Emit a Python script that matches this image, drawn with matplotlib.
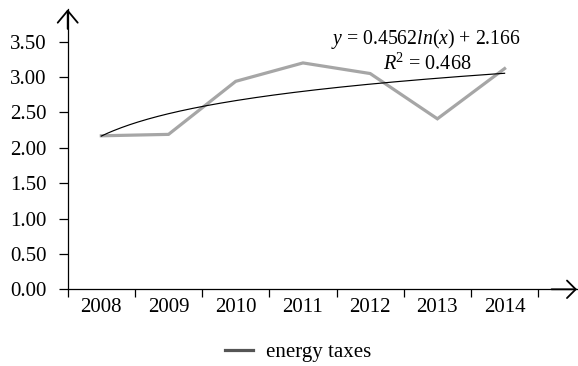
import numpy as np
import matplotlib
matplotlib.use("Agg")
import matplotlib.pyplot as plt
from matplotlib.lines import Line2D
from matplotlib.ticker import FixedLocator, FuncFormatter

plt.rcParams["font.family"] = ["Liberation Serif", "DejaVu Serif"]
plt.rcParams["mathtext.fontset"] = "custom"
plt.rcParams["mathtext.rm"] = "Liberation Serif"
plt.rcParams["mathtext.it"] = "Liberation Serif:italic"

years = ["2008", "2009", "2010", "2011", "2012", "2013", "2014"]
energy_taxes = [2.17, 2.19, 2.94, 3.20, 3.05, 2.41, 3.12]
trend_a = 0.4562
trend_b = 2.166
r_squared = 0.468
y_ticks = [0.0, 0.5, 1.0, 1.5, 2.0, 2.5, 3.0, 3.5]

W, H = 578, 366
fig = plt.figure(figsize=(W / 100, H / 100), dpi=100)
x0, y0 = 67.7, 289.3
x1, y1 = 577, 9.3
ax = fig.add_axes([x0 / W, (H - y0) / H, (x1 - x0) / W, (y0 - y1) / H])

xs = np.arange(len(years))
ax.plot(xs, energy_taxes, color="#a6a6a6", lw=2.3, solid_joinstyle="miter", zorder=3)

# logarithmic trend line, x = 1..7
xt = np.linspace(1, len(years), 200)
ax.plot(xt - 1, trend_a * np.log(xt) + trend_b, color="black", lw=0.85, zorder=4)

ax.set_xlim(-0.5, 7.077)
ax.set_ylim(0, 3.958)

for s in ["top", "right"]:
    ax.spines[s].set_visible(False)
for s in ["left", "bottom"]:
    ax.spines[s].set_linewidth(0.9)

ax.yaxis.set_major_locator(FixedLocator(y_ticks))
ax.yaxis.set_major_formatter(FuncFormatter(lambda v, p: f"{v:.2f}"))
ax.tick_params(axis="y", direction="out", length=6.5, width=0.9, labelsize=15, pad=8.5)

ax.set_xticks(xs)
ax.set_xticklabels(years)
ax.tick_params(axis="x", which="major", length=0, labelsize=15, pad=6)
ax.set_xticks(np.arange(-0.5, len(years) + 0.5, 1.0), minor=True)
ax.tick_params(axis="x", which="minor", direction="out", length=6, width=0.9)

# arrow heads on the axes
ax.annotate("", xy=(1.0, 0), xytext=(0.95, 0), xycoords="axes fraction",
            arrowprops=dict(arrowstyle="->, head_length=0.45, head_width=0.45",
                            lw=1.3, color="black",
                            mutation_scale=14, shrinkA=0, shrinkB=0))
ax.annotate("", xy=(0, 1.0), xytext=(0, 0.93), xycoords="axes fraction",
            arrowprops=dict(arrowstyle="->, head_length=0.6, head_width=0.5",
                            lw=1.3, color="black",
                            mutation_scale=14.4, shrinkA=0, shrinkB=0))

ax.text(426 / W, (H - 39) / H, r"$y$ = 0.4562$ln$($x$) + 2.166",
        transform=fig.transFigure, ha="center", va="center", fontsize=14.2)
ax.text(427 / W, (H - 64) / H, r"$R$$^2$ = " + f"{r_squared:.3f}",
        transform=fig.transFigure, ha="center", va="center", fontsize=14.6)

handle = Line2D([], [], color="#555555", lw=2.3)
fig.legend([handle], ["energy taxes"], loc="center", bbox_to_anchor=(298 / W, (H - 352) / H),
           frameon=False, fontsize=15, handlelength=1.35, handletextpad=0.62)

fig.savefig("out.png", dpi=100)
